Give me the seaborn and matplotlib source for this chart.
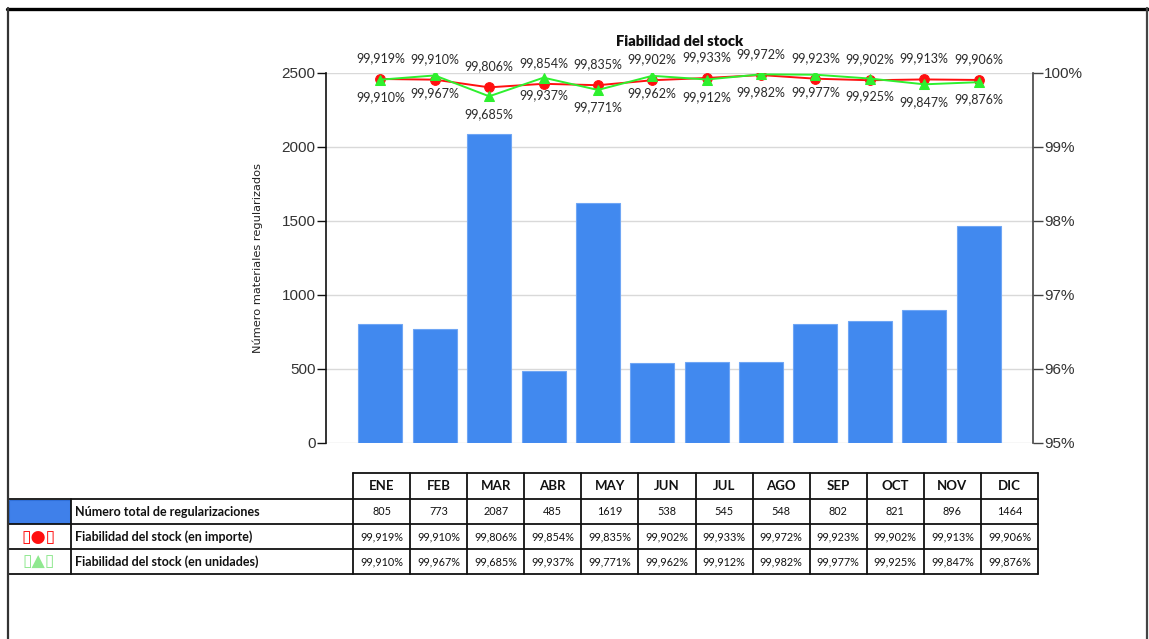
import numpy as np
import pandas as pd
import matplotlib
matplotlib.use("Agg")
import matplotlib.pyplot as plt
from matplotlib.lines import Line2D
from matplotlib.patches import Rectangle
from matplotlib.ticker import FuncFormatter
import seaborn as sns

# ---- data -------------------------------------------------------------
months = ["ENE", "FEB", "MAR", "ABR", "MAY", "JUN", "JUL", "AGO", "SEP", "OCT", "NOV", "DIC"]
regularizaciones = [805, 773, 2087, 485, 1619, 538, 545, 548, 802, 821, 896, 1464]
fiab_importe = [99.919, 99.910, 99.806, 99.854, 99.835, 99.902, 99.933, 99.972, 99.923, 99.902, 99.913, 99.906]
fiab_unidades = [99.910, 99.967, 99.685, 99.937, 99.771, 99.962, 99.912, 99.982, 99.977, 99.925, 99.847, 99.876]

title = "Fiabilidad del stock"
ylabel_left = "Número materiales regularizados"
row_labels = ["Número total de regularizaciones",
              "Fiabilidad del stock (en importe)",
              "Fiabilidad del stock (en unidades)"]

df = pd.DataFrame({"mes": months, "n": regularizaciones,
                   "importe": fiab_importe, "unidades": fiab_unidades})
df["pos"] = np.arange(len(months))

def pct(v):
    return f"{v:.3f}".replace(".", ",") + "%"

# ---- style -------------------------------------------------------------
sns.set_style("white")
plt.rcParams["font.family"] = ["Liberation Sans", "DejaVu Sans"]

BAR = "#4189ef"
RED = "#ff1010"
GREEN = "#2ef02e"

W, H = 1149, 639
fig = plt.figure(figsize=(W / 100, H / 100), dpi=100)

def fx(x):
    return x / W

def fy(y):
    return 1 - y / H

ax_l, ax_r, ax_t, ax_b = 326, 1033, 73, 443
ax = fig.add_axes([fx(ax_l), fy(ax_b), fx(ax_r - ax_l), (ax_b - ax_t) / H])

# bars: number of regularizations
sns.barplot(data=df, x="mes", y="n", color=BAR, saturation=1, width=0.81,
            edgecolor="#6fa6f5", linewidth=0.8, ax=ax, zorder=2)
ax.set_xlim(-1, 12)
ax.set_ylim(0, 2500)
ax.set_yticks([0, 500, 1000, 1500, 2000, 2500])
ax.set_xticks([])
ax.set_xlabel("")
ax.set_ylabel("")
ax.yaxis.grid(True, color="#d9d9d9", linewidth=1.0, zorder=0)
ax.set_axisbelow(True)
for s in ["top", "right", "bottom"]:
    ax.spines[s].set_visible(False)
ax.spines["left"].set_color("#111111")
ax.spines["left"].set_linewidth(1.2)
ax.tick_params(axis="y", which="major", left=True, length=6.5, width=1.0,
               color="#111111", labelsize=11, labelcolor="#333333", pad=1)

fig.text(fx(258), fy(258), ylabel_left, rotation=90, ha="center", va="center",
         fontsize=8.2, color="#222222", family=["DejaVu Sans"])

# lines: stock reliability on a secondary percent axis
ax2 = ax.twinx()
sns.lineplot(data=df, x="pos", y="importe", ax=ax2, color=RED, marker="o",
             markersize=7, markeredgecolor=RED, linewidth=1.4, zorder=3)
sns.lineplot(data=df, x="pos", y="unidades", ax=ax2, color=GREEN, marker="^",
             markersize=6.5, markeredgecolor=GREEN, linewidth=1.4, zorder=4)
ax2.set_xlim(-1, 12)
ax2.set_ylim(95, 100)
ax2.set_yticks([95, 96, 97, 98, 99, 100])
ax2.yaxis.set_major_formatter(FuncFormatter(lambda v, p: f"{v:.0f}%"))
ax2.set_ylabel("")
ax2.set_xlabel("")
for s in ["top", "left", "bottom"]:
    ax2.spines[s].set_visible(False)
ax2.spines["right"].set_color("#444444")
ax2.spines["right"].set_linewidth(1.2)
ax2.tick_params(axis="y", which="major", right=True, length=7, width=1.0,
                color="#444444", labelsize=11, labelcolor="#333333", pad=1)
ax2.grid(False)

lab_font = dict(fontsize=9, color="#2a2a2a", family=["Lato", "DejaVu Sans"])
for i, (a, b) in enumerate(zip(fiab_importe, fiab_unidades)):
    ax2.annotate(pct(a), (i, a), xytext=(0, 15), textcoords="offset points",
                 ha="center", va="center", clip_on=False, **lab_font)
    ax2.annotate(pct(b), (i, b), xytext=(0, -12.5), textcoords="offset points",
                 ha="center", va="center", clip_on=False, **lab_font)

fig.text(fx(680), fy(42), title, ha="center", va="center", fontsize=10.5,
         fontweight="heavy", color="#111111", family=["Lato", "DejaVu Sans"])

# ---- data table --------------------------------------------------------
col_edges = np.linspace(353, 1038, len(months) + 1)
y_head_top, row_edges = 473, [499, 524, 549, 574]
lx0, lx1 = 8, 71
tbl_lw = 1.3

def hline(y, x0, x1, lw=tbl_lw, c="#111111"):
    fig.add_artist(Line2D([fx(x0), fx(x1)], [fy(y), fy(y)], color=c, lw=lw))

def vline(x, y0, y1, lw=tbl_lw, c="#111111"):
    fig.add_artist(Line2D([fx(x), fx(x)], [fy(y0), fy(y1)], color=c, lw=lw))

hline(y_head_top, col_edges[0], col_edges[-1])
for y in row_edges:
    hline(y, lx0, col_edges[-1])
for x in col_edges:
    vline(x, y_head_top, row_edges[-1])
vline(lx1, row_edges[0], row_edges[-1])

tfont = ["Lato", "DejaVu Sans"]
for j, m in enumerate(months):
    cx = (col_edges[j] + col_edges[j + 1]) / 2
    fig.text(fx(cx), fy((y_head_top + row_edges[0]) / 2), m, ha="center", va="center",
             fontsize=9.5, fontweight="bold", family=tfont, color="#111111")
    vals = [str(regularizaciones[j]), pct(fiab_importe[j]), pct(fiab_unidades[j])]
    for r, v in enumerate(vals):
        cy = (row_edges[r] + row_edges[r + 1]) / 2
        fig.text(fx(cx), fy(cy), v, ha="center", va="center", fontsize=7.8,
                 family=tfont, color="#111111")

for r, lab in enumerate(row_labels):
    cy = (row_edges[r] + row_edges[r + 1]) / 2
    fig.text(fx(75), fy(cy), lab, ha="left", va="center", fontsize=9,
             fontweight="bold", family=tfont, color="#111111")

# legend keys in the first column
fig.add_artist(Rectangle((fx(lx0 + 1), fy(row_edges[1] - 1)), fx(lx1 - lx0 - 2),
                         (row_edges[1] - row_edges[0] - 2) / H,
                         facecolor="#3f80ea", edgecolor="#2f6fd8", lw=0.8))
fig.text(fx(39), fy((row_edges[1] + row_edges[2]) / 2), "▯●▯", ha="center", va="center",
         fontsize=12.5, color=RED, family=["DejaVu Sans"])
fig.text(fx(39), fy((row_edges[2] + row_edges[3]) / 2), "▯▲▯", ha="center", va="center",
         fontsize=12.5, color="#8fe88f", family=["DejaVu Sans"])

# ---- outer frame -------------------------------------------------------
fig.add_artist(Line2D([fx(7), fx(1149)], [fy(9), fy(9)], color="#000000", lw=2.4))
fig.add_artist(Line2D([fx(8), fx(8)], [fy(8), fy(639)], color="#333333", lw=1.6))
fig.add_artist(Line2D([fx(1146.5), fx(1146.5)], [fy(8), fy(639)], color="#444444", lw=1.6))

fig.savefig("out.png", dpi=100)
